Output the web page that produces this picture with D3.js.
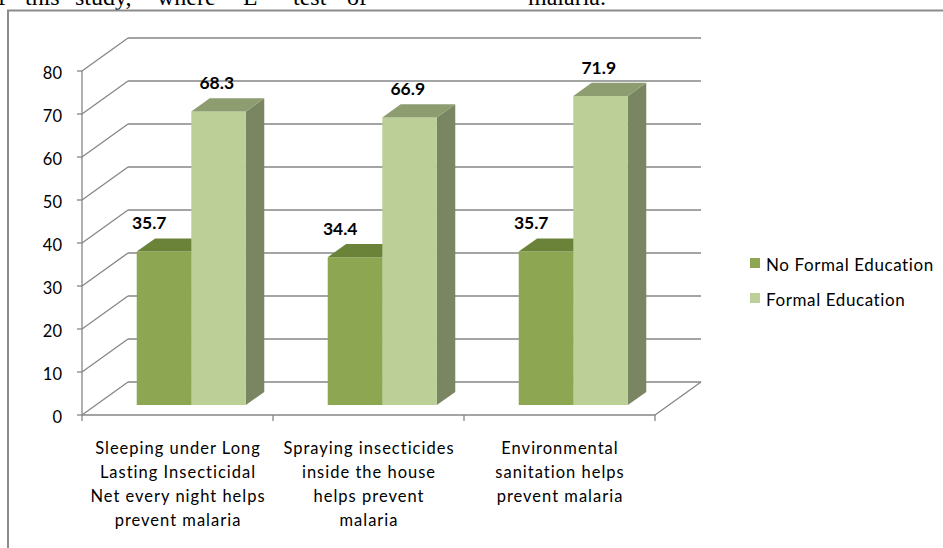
<!DOCTYPE html>
<html><head><meta charset="utf-8">
<script src="https://cdn.jsdelivr.net/npm/d3@7"></script>
<style>body{margin:0;background:#fff;overflow:hidden}svg{display:block}</style>
</head><body>
<script>
// ---------- data ----------
const categories = [
  "Sleeping under Long Lasting Insecticidal Net every night helps prevent malaria",
  "Spraying insecticides inside the house helps prevent malaria",
  "Environmental sanitation helps prevent malaria"
];
const categoryLines = [
  ["Sleeping under Long", "Lasting Insecticidal", "Net every night helps", "prevent malaria"],
  ["Spraying insecticides", "inside the house", "helps prevent", "malaria"],
  ["Environmental", "sanitation helps", "prevent malaria"]
];
const seriesNames = ["No Formal Education", "Formal Education"];
const noFormalEducation = [35.7, 34.4, 35.7];
const formalEducation = [68.3, 66.9, 71.9];
const yTicks = [0, 10, 20, 30, 40, 50, 60, 70, 80];
const topWords = ["f", "this", "study,", "where", "L", "test", "of", "malaria."];

// ---------- styles ----------
const W = 943, H = 548;
const FONT = "Lato, 'Open Sans', sans-serif";
const colors = {
  front: ["#8ca652", "#bbcf97"],
  top:   ["#6b8339", "#8e9d70"],
  side:  ["#6b8339", "#7a8661"]
};
const gridColor = "#868686";

const svg = d3.select("body").append("svg").attr("width", W).attr("height", H);

// cropped text line from the page above the chart
const topX = [-2, 25, 75, 157, 243, 293, 347, 528];
svg.append("g").selectAll("text").data(topWords).join("text")
  .attr("x", (d, i) => topX[i]).attr("y", 4.5)
  .attr("font-family", "'Liberation Serif', 'Times New Roman', serif")
  .attr("font-size", 24).attr("fill", "#000").text(d => d);

// chart frame (continues off the picture on right and bottom)
svg.append("path").attr("d", "M8,548 L8,10.5 L943,10.5")
  .attr("fill", "none").attr("stroke", "#8c8c8c").attr("stroke-width", 2);

// ---------- scales ----------
const y = d3.scaleLinear().domain([0, 80]).range([415, 71]);
const x = d3.scaleBand().domain(categories).range([82, 655]);
const sub = d3.scaleBand().domain(seriesNames).range([0, x.bandwidth()])
  .paddingInner(0).paddingOuter(0.75);
const DX = 46, DY = -33;         // full depth of the 3D box
const F0 = 0.3, F1 = 0.7;        // depth span of the bars
const P = (px, v, f) => [px + f * DX, y(v) + f * DY];
const poly = pts => "M" + pts.map(p => p.join(",")).join("L") + "Z";
const line = (a, b) => "M" + a.join(",") + "L" + b.join(",");

const xL = x.range()[0], xR = x.range()[1];

// ---------- walls / gridlines ----------
const grid = svg.append("g").attr("fill", "none").attr("stroke", gridColor).attr("stroke-width", 1.3);
yTicks.forEach(t => {
  grid.append("path").attr("d", line(P(xL, t, 1), P(xR, t, 1)));      // back wall
  grid.append("path").attr("d", line(P(xL, t, 0), P(xL, t, 1)));      // side wall
  grid.append("path").attr("d", line([xL - 5, y(t)], [xL, y(t)]));    // tick
});
// value axis
grid.append("path").attr("d", line([xL, y(0)], [xL, y(80)]));
// floor outline
grid.append("path").attr("d", line(P(xL, 0, 0), P(xR, 0, 0)));
grid.append("path").attr("d", line(P(xR, 0, 0), P(xR, 0, 1)));
// category ticks
const boundaries = categories.map(c => x(c)).concat([xR]);
boundaries.forEach(b => grid.append("path").attr("d", line([b, y(0)], [b, y(0) + 6])));

// y tick labels
svg.append("g").selectAll("text").data(yTicks).join("text")
  .attr("x", 62).attr("y", d => y(d) + 7.5).attr("text-anchor", "end")
  .attr("font-family", FONT).attr("font-size", 16.5).attr("fill", "#000")
  .text(d => d);

// ---------- bars ----------
const seriesValues = [noFormalEducation, formalEducation];
const bars = [];
categories.forEach((c, ci) => {
  seriesNames.forEach((s, si) => bars.push({c, ci, s, si, v: seriesValues[si][ci]}));
});
const gb = svg.append("g");
bars.forEach(b => {
  const xl = x(b.c) + sub(b.s), xr = xl + sub.bandwidth();
  const g = gb.append("g");
  g.append("path").attr("d", poly([P(xr, 0, F0), P(xr, b.v, F0), P(xr, b.v, F1), P(xr, 0, F1)]))
    .attr("fill", colors.side[b.si]);
  g.append("path").attr("d", poly([P(xl, 0, F0), P(xr, 0, F0), P(xr, b.v, F0), P(xl, b.v, F0)]))
    .attr("fill", colors.front[b.si]);
  g.append("path").attr("d", poly([P(xl, b.v, F0), P(xr, b.v, F0), P(xr, b.v, F1), P(xl, b.v, F1)]))
    .attr("fill", colors.top[b.si]);
});

// data labels
const labelShift = [-1, 12];
svg.append("g").selectAll("text").data(bars).join("text")
  .attr("x", d => x(d.c) + sub(d.s) + sub.bandwidth() / 2 + labelShift[d.si])
  .attr("y", d => y(d.v) + F1 * DY - 9)
  .attr("text-anchor", "middle").attr("font-family", FONT)
  .attr("font-weight", "bold").attr("font-size", 17.5).attr("fill", "#000")
  .text(d => d.v.toFixed(1));

// category labels
const cl = svg.append("g").attr("font-family", FONT).attr("font-size", 16.5).attr("fill", "#000")
  .attr("letter-spacing", 1).attr("text-anchor", "middle");
categories.forEach((c, ci) => {
  const cx = x(c) + x.bandwidth() / 2 + 0.5;
  const t = cl.append("text").attr("x", cx).attr("y", 454);
  categoryLines[ci].forEach((ln, li) => t.append("tspan")
    .attr("x", cx).attr("dy", li === 0 ? 0 : 24).text(ln));
});

// legend
const lg = svg.append("g").attr("transform", "translate(750,258)");
seriesNames.forEach((s, si) => {
  lg.append("rect").attr("x", 0).attr("y", si * 35).attr("width", 10).attr("height", 10)
    .attr("fill", colors.front[si]);
  lg.append("text").attr("x", 16).attr("y", si * 35 + 13)
    .attr("font-family", FONT).attr("font-size", 17).attr("letter-spacing", 0.6)
    .attr("fill", "#000").text(s);
});
</script>
</body></html>
